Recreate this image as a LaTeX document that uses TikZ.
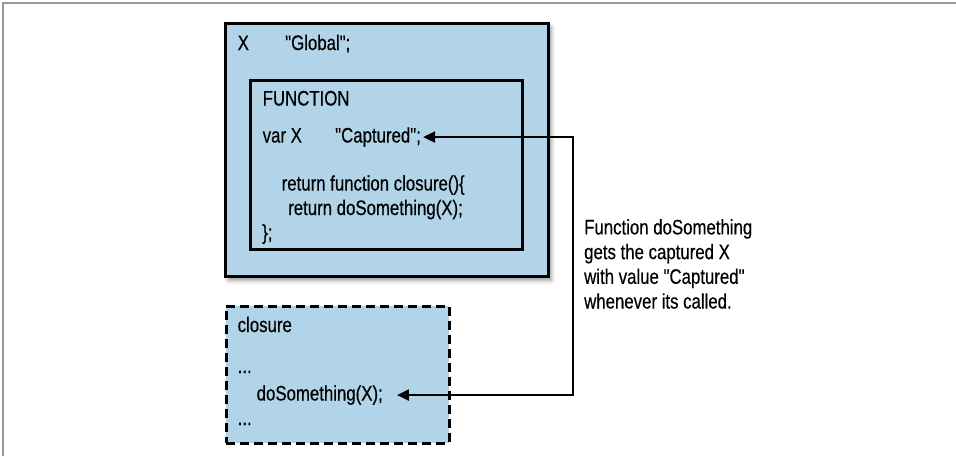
\documentclass[tikz,border=0pt]{standalone}
\usepackage{fontspec}
\setmainfont{Liberation Sans}[FakeStretch=0.8, FakeBold=0.4, Ligatures=TeXOff]
\usetikzlibrary{arrows.meta, shadows.blur, positioning}
\definecolor{scopeblue}{RGB}{178,212,233}
\definecolor{framegray}{RGB}{150,150,150}
\tikzstyle{scopebox} = [rectangle, 
			draw, 
			fill = scopeblue, 
			line width = 3pt, 
			anchor = north west, 
			inner sep = 0]
\tikzstyle{code} = [inner sep = 0, 
			anchor = base west, 
			font = \fontsize{21}{24.7}\selectfont]
\tikzstyle{link} = [line width = 2.2pt, 
			{Triangle[length=12pt,width=11pt]}-{Triangle[length=12pt,width=11pt]}]

\begin{document}
\begin{tikzpicture}[x=1pt, y=-1pt]
	\useasboundingbox (0,0) rectangle (956,456);
	\draw [framegray, line width=1.5pt] (3,456) -- (3,3) -- (956,3);
	% scopes
	\node [scopebox, minimum width=323.5pt, minimum height=253.5pt,
		blur shadow={shadow xshift=3pt, shadow yshift=-4pt, shadow blur radius=4pt}] (global) at (223.5,21.5) {};
	\node [scopebox, minimum width=272.5pt, minimum height=169.5pt] (func) at (248.5,78.5) {};
	\node [scopebox, dash pattern=on 9pt off 5pt, minimum width=223pt, minimum height=137pt] (closure) at (224.5,304.5) {};
	% code lines
	\node [code] (globalvar) at (237.5,50) {X};
	\node [code] (globalval) at (285,50) {"Global";};
	\node [code] (funclabel) at (262.5,105.5) {FUNCTION};
	\node [code] (capvar) at (262.5,142.5) {var X};
	\node [code] (captured) at (335,142.5) {"Captured";};
	\node [code] (ret1) at (281.5,190.5) {return function closure()\{};
	\node [code] (ret2) at (288,215) {return doSomething(X);};
	\node [code] (funcend) at (262,239.5) {\};};
	\node [code] (closurelabel) at (237.5,332) {closure};
	\node [code] (dots1) at (237.5,373) {...};
	\node [code] (callsite) at (256.5,400.5) {doSomething(X);};
	\node [code] (dots2) at (237.5,425) {...};
	\node [code, anchor=north west, align=left] (note) at (584,219) {Function doSomething\\gets the captured X\\with value "Captured"\\whenever its called.};
	% capture link
	\coordinate (rail) at (573,0);
	\draw [link] ([xshift=2pt]captured.east) -- (captured.east -| rail) |- ([xshift=14pt]callsite.east);
\end{tikzpicture}
\end{document}
